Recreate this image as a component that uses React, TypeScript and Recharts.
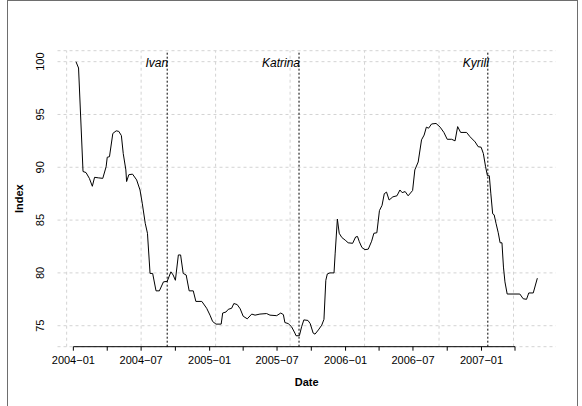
import React from "react";
import { LineChart, Line, XAxis, YAxis, CartesianGrid, ReferenceLine } from "recharts";

const dates = [
  "2004-01-08","2004-01-15","2004-01-27","2004-02-04","2004-02-13","2004-02-21","2004-02-27","2004-03-08","2004-03-20","2004-03-29",
  "2004-04-01","2004-04-07","2004-04-16","2004-04-25","2004-05-02","2004-05-09","2004-05-14","2004-05-21","2004-05-23","2004-05-29",
  "2004-06-08","2004-06-19","2004-06-28","2004-07-04","2004-07-12","2004-07-18","2004-07-25","2004-08-01","2004-08-10","2004-08-19",
  "2004-08-30","2004-09-09","2004-09-19","2004-09-25","2004-10-01","2004-10-09","2004-10-15","2004-10-22","2004-10-30","2004-11-07",
  "2004-11-18","2004-11-25","2004-12-11","2004-12-24","2005-01-02","2005-01-09","2005-01-18","2005-02-01","2005-02-05","2005-02-14",
  "2005-02-20","2005-03-01","2005-03-07","2005-03-16","2005-03-24","2005-04-01","2005-04-12","2005-04-24","2005-05-03","2005-05-16",
  "2005-06-03","2005-06-12","2005-06-30","2005-07-11","2005-07-18","2005-07-22","2005-07-31","2005-08-09","2005-08-18","2005-08-21",
  "2005-08-30","2005-09-05","2005-09-11","2005-09-22","2005-09-28","2005-10-06","2005-10-11","2005-10-20","2005-10-29","2005-11-04",
  "2005-11-09","2005-11-13","2005-11-20","2005-12-01","2005-12-04","2005-12-10","2005-12-15","2005-12-22","2005-12-31","2006-01-08",
  "2006-01-20","2006-01-28","2006-02-02","2006-02-07","2006-02-14","2006-02-22","2006-03-03","2006-03-12","2006-03-18","2006-03-26",
  "2006-04-02","2006-04-09","2006-04-15","2006-04-21","2006-04-28","2006-05-08","2006-05-19","2006-05-27","2006-06-02","2006-06-10",
  "2006-06-18","2006-06-30","2006-07-06","2006-07-15","2006-07-24","2006-07-31","2006-08-06","2006-08-12","2006-08-20","2006-09-01",
  "2006-09-12","2006-09-22","2006-10-01","2006-10-13","2006-10-22","2006-10-29","2006-11-06","2006-11-22","2006-12-01","2006-12-15",
  "2006-12-23","2006-12-31","2007-01-06","2007-01-12","2007-01-17","2007-01-22","2007-01-26","2007-01-31","2007-02-04","2007-02-09",
  "2007-02-15","2007-02-20","2007-02-25","2007-03-01","2007-03-05","2007-03-11","2007-04-14","2007-04-23","2007-05-02","2007-05-08",
  "2007-05-20","2007-05-31",
];

const indexValues = [
  100.0, 99.4, 89.6, 89.5, 88.95, 88.2, 89.05, 89.0, 88.95, 90.05,
  90.95, 91.0, 93.2, 93.45, 93.4, 93.0, 91.3, 89.75, 88.65, 89.3,
  89.35, 88.8, 87.85, 86.6, 84.7, 83.75, 79.95, 79.95, 78.3, 78.3,
  79.15, 79.2, 80.1, 79.8, 79.3, 81.7, 81.7, 79.95, 79.8, 78.3,
  78.3, 77.3, 77.3, 76.65, 76.0, 75.4, 75.15, 75.15, 76.2, 76.3,
  76.55, 76.65, 77.1, 77.0, 76.6, 75.9, 75.65, 76.1, 76.0, 76.1,
  76.15, 76.0, 75.95, 76.2, 76.05, 75.3, 75.2, 74.9, 74.3, 74.05,
  74.05, 74.9, 75.55, 75.5, 75.2, 74.3, 74.2, 74.6, 75.05, 75.6,
  79.3, 79.9, 80.0, 80.0, 81.8, 85.1, 83.75, 83.35, 83.1, 82.85,
  82.8, 83.4, 83.45, 82.95, 82.4, 82.2, 82.25, 83.0, 83.75, 83.8,
  85.9, 86.4, 87.5, 87.65, 86.9, 87.2, 87.3, 87.85, 87.6, 87.7,
  87.3, 87.8, 89.75, 90.5, 92.6, 93.05, 93.8, 93.7, 94.1, 94.15,
  93.8, 93.3, 92.65, 92.65, 92.5, 93.85, 93.3, 93.3, 92.9, 92.4,
  91.95, 91.9, 91.3, 90.05, 89.2, 89.2, 87.55, 85.6, 85.5, 84.7,
  83.8, 82.85, 82.85, 80.55, 79.15, 78.0, 78.0, 77.55, 77.5, 78.1,
  78.1, 79.5,
];

const tickDates = [
  "2004-01-01","2004-04-01","2004-07-01","2004-10-01","2005-01-01","2005-04-01","2005-07-01",
  "2005-10-01","2006-01-01","2006-04-01","2006-07-01","2006-10-01","2007-01-01","2007-04-01",
];
const tickLabels = [
  "2004\u221201","","2004\u221207","","2005\u221201","","2005\u221207",
  "","2006\u221201","","2006\u221207","","2007\u221201","",
];
const yTicks = [75, 80, 85, 90, 95, 100];

const eventNames = ["Ivan", "Katrina", "Kyrill"];
const eventDates = ["2004-09-09", "2005-08-29", "2007-01-18"];

const toDay = (s: string) => {
  const [y, m, d] = s.split("-").map(Number);
  return Date.UTC(y, m - 1, d) / 86400000;
};

const data = dates.map((d, i) => ({ day: toDay(d), value: indexValues[i] }));
const tickDays = tickDates.map(toDay);
const labelByDay: Record<number, string> = {};
tickDays.forEach((d, i) => (labelByDay[d] = tickLabels[i]));

const firstDay = data[0].day;
const lastDay = data[data.length - 1].day;
const xPad = 0.04 * (lastDay - firstDay);
const xDomain: [number, number] = [firstDay - xPad, lastDay + xPad];
const vMin = Math.min(...indexValues);
const vMax = Math.max(...indexValues);
const yPad = 0.04 * (vMax - vMin);
const yDomain: [number, number] = [vMin - yPad, vMax + yPad];

// R-style pretty grid (every 200 days)
const gridDays: number[] = [];
for (let d = Math.ceil(xDomain[0] / 200) * 200; d <= xDomain[1]; d += 200) gridDays.push(d);

const FONT = '"Liberation Sans", Arial, Helvetica, sans-serif';
const W = 582;
const H = 406;
const M = { top: 50.7, right: 26.2, bottom: 0, left: 0 };
const Y_W = 57.5;
const X_H = 59.3;

const XTick = (props: any) => {
  const { x, payload } = props;
  const lbl = labelByDay[payload.value];
  if (!lbl) return <g />;
  return (
    <text x={x} y={363.5} textAnchor="middle" fontSize={11} fontFamily={FONT} fill="#000">
      {lbl}
    </text>
  );
};

const YTick = (props: any) => {
  const { y, payload } = props;
  return (
    <text
      x={44}
      y={y}
      transform={`rotate(-90 44 ${y})`}
      textAnchor="middle"
      fontSize={11}
      fontFamily={FONT}
      fill="#000"
    >
      {payload.value}
    </text>
  );
};

const EventLabel = (props: any) => {
  const vb = props.viewBox || {};
  return (
    <text
      x={(vb.x ?? 0) + 1}
      y={(vb.y ?? 0) + 15.8}
      textAnchor="end"
      fontSize={12}
      fontStyle="italic"
      fontFamily={FONT}
      fill="#000"
    >
      {props.text}
    </text>
  );
};

export default function App() {
  const plotCx = Y_W + (W - Y_W - M.right) / 2;
  const plotCy = M.top + (H - M.top - X_H) / 2;
  return (
    <div style={{ position: "absolute", left: 0, top: 0, width: W, height: H, overflow: "hidden", background: "#fff" }}>
      <div
        style={{
          position: "absolute",
          left: 7,
          top: 0,
          width: 569,
          height: 430,
          border: "1px solid #6e6e6e",
          boxSizing: "content-box",
        }}
      />
      <div style={{ position: "absolute", left: 0, top: 0 }}>
        <LineChart width={W} height={H} data={data} margin={M}>
          <CartesianGrid vertical={false} stroke="#d3d3d3" strokeDasharray="3 3" />
          {gridDays.map((d) => (
            <ReferenceLine key={"g" + d} x={d} stroke="#d3d3d3" strokeDasharray="3 3" ifOverflow="visible" />
          ))}
          <XAxis
            dataKey="day"
            type="number"
            domain={xDomain}
            allowDataOverflow
            ticks={tickDays}
            interval={0}
            height={X_H}
            axisLine={false}
            tickLine={{ stroke: "#000" }}
            tickSize={4}
            tick={<XTick />}
          />
          <YAxis
            type="number"
            domain={yDomain}
            allowDataOverflow
            ticks={yTicks}
            interval={0}
            width={Y_W}
            axisLine={false}
            tickLine={false}
            tick={<YTick />}
          />
          <ReferenceLine
            segment={[
              { x: tickDays[0], y: yDomain[0] },
              { x: tickDays[tickDays.length - 1], y: yDomain[0] },
            ]}
            stroke="#000"
            strokeWidth={1}
            ifOverflow="visible"
          />
          {eventDates.map((d, i) => (
            <ReferenceLine
              key={"e" + i}
              x={toDay(d)}
              stroke="#000"
              strokeDasharray="2 2"
              ifOverflow="visible"
              label={<EventLabel text={eventNames[i]} />}
            />
          ))}
          <Line
            type="linear"
            dataKey="value"
            stroke="#000"
            strokeWidth={1}
            dot={false}
            isAnimationActive={false}
          />
        </LineChart>
      </div>
      <svg width={W} height={H} style={{ position: "absolute", left: 0, top: 0, pointerEvents: "none" }}>
        <text x={plotCx} y={385.5} textAnchor="middle" fontSize={11} fontWeight="bold" fontFamily={FONT} fill="#000">
          Date
        </text>
        <text
          x={23}
          y={plotCy}
          transform={`rotate(-90 23 ${plotCy})`}
          textAnchor="middle"
          fontSize={11}
          fontWeight="bold"
          fontFamily={FONT}
          fill="#000"
        >
          Index
        </text>
      </svg>
    </div>
  );
}
